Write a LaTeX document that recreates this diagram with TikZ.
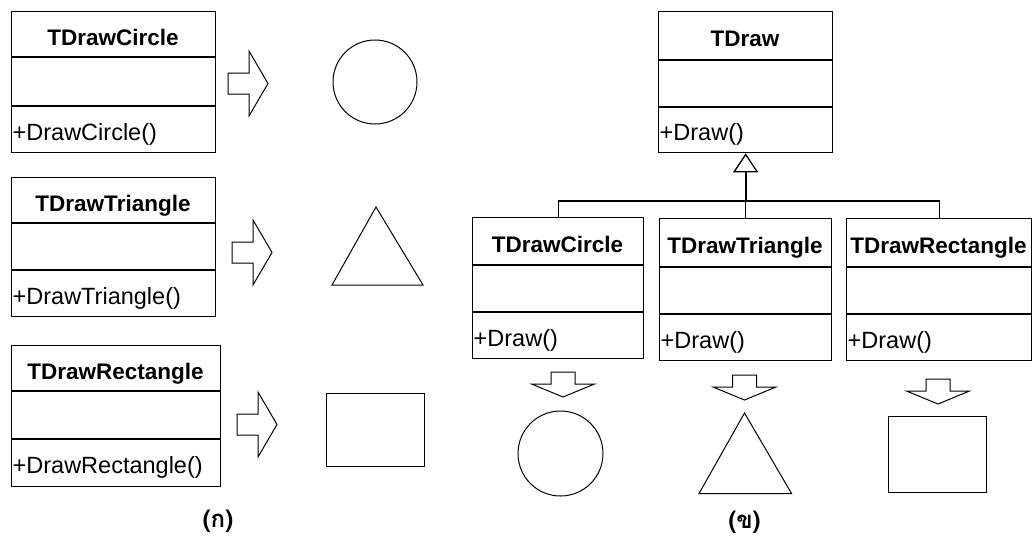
\documentclass[tikz,border=0pt]{standalone}
\usepackage{fontspec}
\setmainfont{Liberation Sans}
\newfontfamily\thaifont[Script=Thai]{Loma}
\usetikzlibrary{arrows.meta}

\tikzset{
  classframe/.style={draw, line width=1.3pt, inner sep=0pt, anchor=north west},
  classrule/.style={line width=1.3pt},
  classtitle/.style={font=\fontsize{22.5}{26}\selectfont\bfseries, inner sep=0pt, anchor=base},
  classop/.style={font=\fontsize{23.5}{27}\selectfont, inner sep=0pt, inner xsep=1.5pt, anchor=base west},
  shapeline/.style={line width=1pt},
  blockarrow/.style={draw, line width=1pt, line join=miter},
  inherit/.style={line width=1.3pt},
  caption/.style={font=\thaifont\bfseries\fontsize{24}{28}\selectfont, inner sep=0pt},
  rightblock/.pic={\draw[blockarrow] (0,-10.5) -- (21,-10.5) -- (21,-32.5) -- (40,0)
      -- (21,32.5) -- (21,10.5) -- (0,10.5) -- cycle;},
  downblock/.pic={\draw[blockarrow] (-12,0) -- (12,0) -- (12,12) -- (31.5,12)
      -- (0,25) -- (-31.5,12) -- (-12,12) -- cycle;},
}

% name, left, top, right, bottom, first rule, second rule, class name, operation
\newcommand\umlclass[9]{%
  \node[classframe, minimum width={(#4-#2)*1pt}, minimum height={(#5-#3)*1pt}] (#1) at (#2,#3) {};
  \draw[classrule] (#2,#6) -- (#4,#6) (#2,#7) -- (#4,#7);
  \node[classtitle] (#1-name) at ({(#2+#4)/2},{(#3+#6)/2+11}) {#8};
  \node[classop] (#1-op) at (#2,{(#7+#5)/2+11}) {#9};
}

\begin{document}
\begin{tikzpicture}[x=1pt, y=-1pt]
\useasboundingbox (0,0) rectangle (1033,538);

% (a) one class per shape
\umlclass{circA}{11}{11}{215}{152}{57}{106}{TDrawCircle}{+DrawCircle()}
\umlclass{triA}{11}{177}{215}{316}{223}{270}{TDrawTriangle}{+DrawTriangle()}
\umlclass{rectA}{11}{345}{220}{486}{391}{439}{TDrawRectangle}{+DrawRectangle()}

\pic at (228,83.5) {rightblock};
\pic at (232,252.5) {rightblock};
\pic at (237,424.5) {rightblock};

\node[shapeline, draw, circle, minimum size=84pt, inner sep=0pt] (roundL) at (375,82) {};
\draw[shapeline] (376,207) -- (423,285) -- (332,285) -- cycle;
\draw[shapeline] (326,393) rectangle (424,466);

\node[caption] (capL) at (218,521) {(ก)};

% (b) common base class with three subclasses
\umlclass{P}{658}{11}{832}{152}{60}{107}{TDraw}{+Draw()}
\umlclass{A}{472}{217}{643}{358}{265}{312}{TDrawCircle}{+Draw()}
\umlclass{B}{659}{218}{831}{360}{267}{314}{TDrawTriangle}{+Draw()}
\umlclass{C}{846}{218}{1031}{360}{267}{314}{TDrawRectangle}{+Draw()}

\draw[inherit] (A.north) -- ++(0,-16) coordinate (busL) -| (C.north);
\coordinate (J) at (B.north |- busL);
\draw[inherit] (J) -- (B.north);
\draw[inherit, line width=2.2pt,
      -{Triangle[open, length=19pt, width=25pt, line width=1.3pt]}] (J) -- (P.south);

\pic at (563,372) {downblock};
\pic at (744.5,375) {downblock};
\pic at (938,379) {downblock};

\node[shapeline, draw, circle, minimum size=85pt, inner sep=0pt] (roundR) at (560.5,453.5) {};
\draw[shapeline] (744.5,413) -- (791.6,493.6) -- (699,493.6) -- cycle;
\draw[shapeline] (888,416) rectangle (986,492);

\node[caption] (capR) at (744.5,522) {(ข)};
\end{tikzpicture}
\end{document}
